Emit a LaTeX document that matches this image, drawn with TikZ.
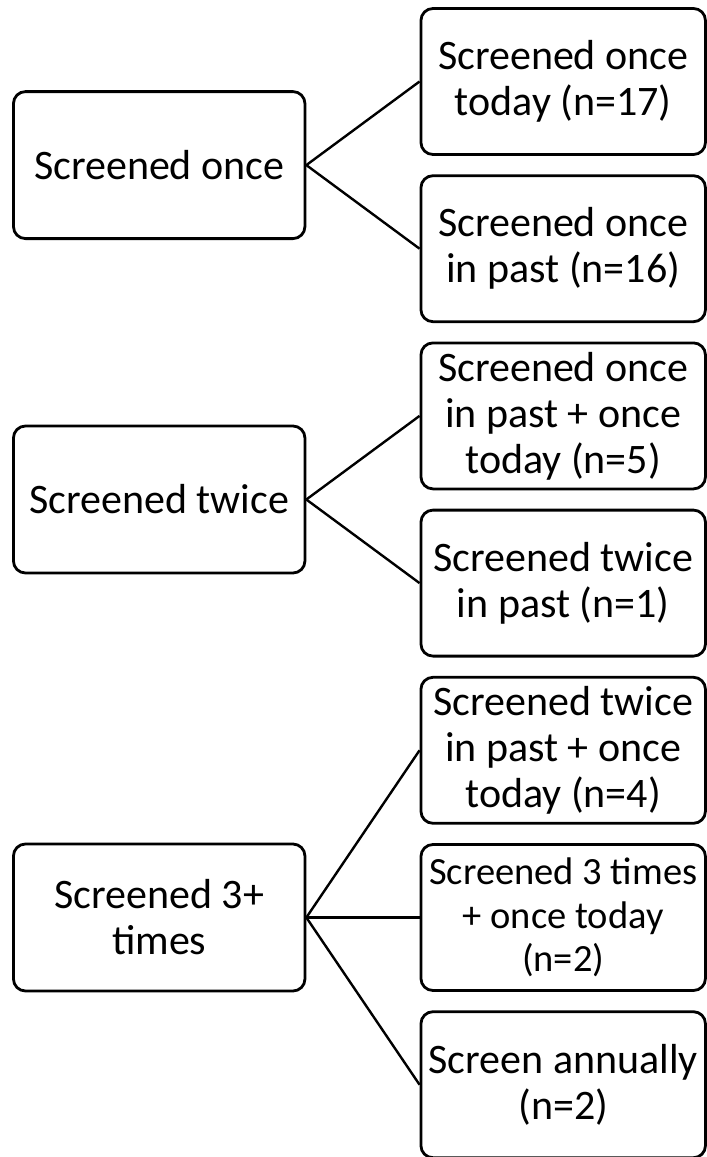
\documentclass[tikz,border=0pt]{standalone}
\usepackage{fontspec}
\setmainfont{Carlito}
\usetikzlibrary{positioning, calc}
\tikzset{
  baseblock/.style={
    rectangle, rounded corners=6pt, draw=black, fill=white, line width=1.4pt,
    align=center, inner sep=0pt
  },
  groupblock/.style={baseblock, minimum width=145.75pt, minimum height=73.5pt,
    font=\fontsize{21}{23}\selectfont},
  outcomeblock/.style={baseblock, minimum width=142.25pt, minimum height=73pt,
    font=\fontsize{21}{23}\selectfont},
  smalltext/.style={font=\fontsize{19.25}{21.75}\selectfont},
  branchline/.style={draw=black, line width=1.2pt}
}

\begin{document}
\begin{tikzpicture}[node distance=9.2pt and 56.6pt]

  \useasboundingbox (0,0) rectangle (353.5pt,-578.5pt);

  % Outcomes (right column)
  \node[outcomeblock] (once_today) at (281.6pt,-40.75pt) {Screened once\\today (n=17)};
  \node[outcomeblock, below=of once_today] (once_past) {Screened once\\in past (n=16)};
  \node[outcomeblock, below=of once_past] (once_past_today) {Screened once\\in past + once\\today (n=5)};
  \node[outcomeblock, below=of once_past_today] (twice_past) {Screened twice\\in past (n=1)};
  \node[outcomeblock, below=of twice_past] (twice_past_today) {Screened twice\\in past + once\\today (n=4)};
  \node[outcomeblock, smalltext, below=of twice_past_today] (three_today) {Screened 3 times\\+ once today\\(n=2)};
  \node[outcomeblock, below=of three_today] (annually) {Screen annually\\(n=2)};

  % Screening groups (left column)
  \coordinate (mid_once) at ($(once_today.west)!0.5!(once_past.west)$);
  \coordinate (mid_twice) at ($(once_past_today.west)!0.5!(twice_past.west)$);
  \node[groupblock, left=of mid_once] (once) {Screened once};
  \node[groupblock, left=of mid_twice] (twice) {Screened twice};
  \node[groupblock, left=of three_today.west] (three_plus) {Screened 3+\\times};

  \draw[branchline] (once.east) -- (once_today.west);
  \draw[branchline] (once.east) -- (once_past.west);
  \draw[branchline] (twice.east) -- (once_past_today.west);
  \draw[branchline] (twice.east) -- (twice_past.west);
  \draw[branchline] (three_plus.east) -- (twice_past_today.west);
  \draw[branchline] (three_plus.east) -- (three_today.west);
  \draw[branchline] (three_plus.east) -- (annually.west);

\end{tikzpicture}
\end{document}
